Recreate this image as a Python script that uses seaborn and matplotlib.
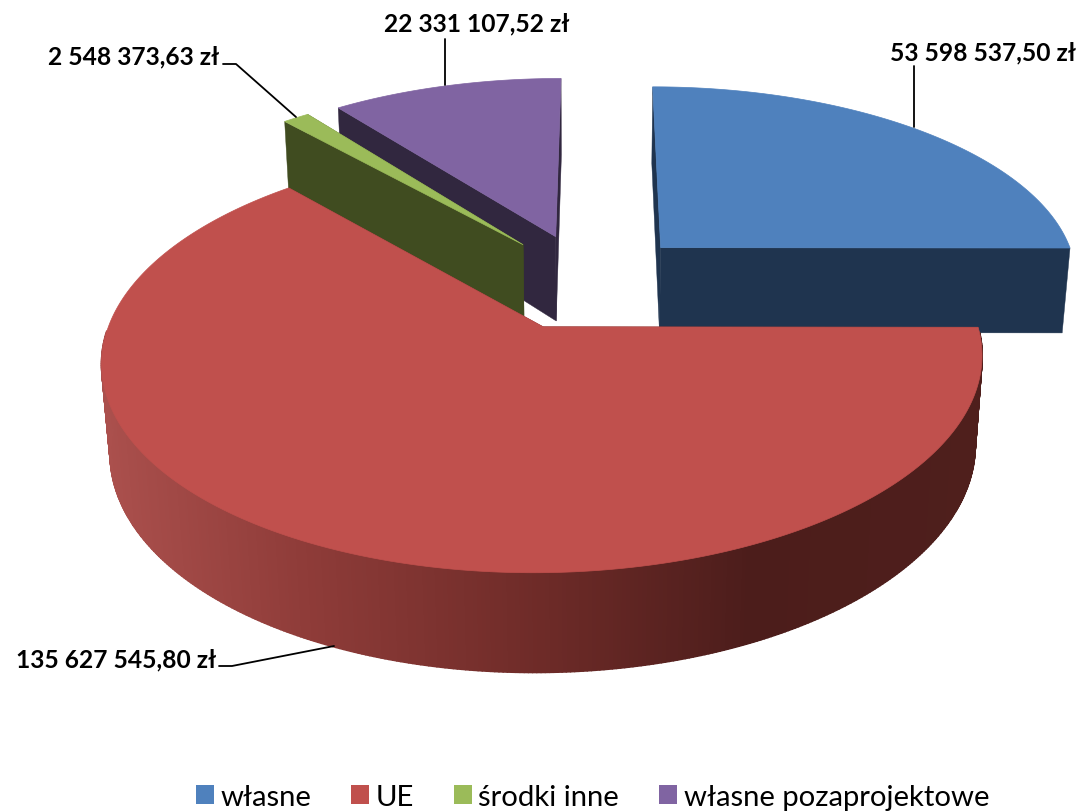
import numpy as np
import matplotlib
matplotlib.use("Agg")
import matplotlib.pyplot as plt
from matplotlib.collections import PolyCollection
from matplotlib.patches import Polygon, Patch
from matplotlib.colors import to_rgb
import seaborn as sns

# ---- data ----
categories = ["własne", "UE", "środki inne", "własne pozaprojektowe"]
values = [53598537.50, 135627545.80, 2548373.63, 22331107.52]
value_labels = ["53 598 537,50 zł", "135 627 545,80 zł", "2 548 373,63 zł", "22 331 107,52 zł"]

# ---- style ----
top_colors = ["#4f81bd", "#c0504d", "#9bbb59", "#8064a2"]
side_colors = ["#1f344f", "#4d1f1d", "#404c20", "#31273f"]
FONT = "Lato"

sns.set_theme(style="white")
plt.rcParams["font.family"] = [FONT, "DejaVu Sans"]

# ---- projection of the exploded 3-D pie ----
CX, CY, RX, RY, SKEW, DIST, H, ZK = 588, 282, 420, 194, 1.5, 6.7, 88, 0.017
EXPLODE = 0.25


def project(X, Y, Z):
    w = 1 + Y / DIST + ZK * Z
    return CX + (RX * X + SKEW * Y) / w, CY + (-RY * Y + H * Z) / w


fig = plt.figure(figsize=(10.82, 8.12), dpi=100)
ax = fig.add_axes([0, 0, 1, 1])
ax.set_xlim(0, 1082)
ax.set_ylim(812, 0)
ax.axis("off")

fractions = np.array(values) / np.sum(values)
edges = np.concatenate([[0], np.cumsum(fractions)]) * 2 * np.pi

wall_x = [100, 300, 540, 750, 990]
wall_rgb = np.array([to_rgb(c) for c in ["#ab504d", "#8f3c39", "#6e2b28", "#4c1d1b", "#4f1f1c"]])


def wall_color(i, x):
    if i != 1:
        return side_colors[i]
    return tuple(np.interp(x, wall_x, wall_rgb[:, k]) for k in range(3))


def draw_slice(i, zorder):
    a0, a1 = edges[i], edges[i + 1]
    mid = (a0 + a1) / 2
    ox, oy = EXPLODE * np.sin(mid), EXPLODE * np.cos(mid)
    th = np.linspace(a0, a1, max(int((a1 - a0) * 120), 6))
    rimX, rimY = ox + np.sin(th), oy + np.cos(th)
    tx, ty = project(rimX, rimY, 0)
    bx, by = project(rimX, rimY, 1)
    ax0, ay0 = project(ox, oy, 0)
    ax1, ay1 = project(ox, oy, 1)
    # cut faces
    for k in (0, -1):
        ax.add_patch(Polygon([(ax0, ay0), (tx[k], ty[k]), (bx[k], by[k]), (ax1, ay1)],
                             closed=True, fc=side_colors[i], ec=side_colors[i], lw=0.3, zorder=zorder))
    # outer wall: only the strips that face the viewer, overlapping so no seams appear
    front = [j for j in range(len(th) - 1) if np.cos(th[j]) < -0.02 and np.cos(th[j + 1]) < -0.02]
    quads = [[(tx[j], ty[j]), (tx[j + 1], ty[j + 1]), (bx[j + 1], by[j + 1]), (bx[j], by[j])] for j in front]
    cols = [wall_color(i, (tx[j] + tx[j + 1]) / 2) for j in front]
    if quads:
        ax.add_collection(PolyCollection(quads, facecolors=cols, edgecolors=cols, linewidths=1.4, zorder=zorder))
    # top
    ax.add_patch(Polygon(np.column_stack([np.r_[ax0, tx], np.r_[ay0, ty]]), closed=True,
                         fc=top_colors[i], ec=top_colors[i], lw=0.5, zorder=zorder + 0.5))


# painter's order: back to front
for z, i in enumerate([3, 2, 0, 1]):
    draw_slice(i, z + 2)

# ---- leader lines and value labels ----
leaders = [[(914, 67), (914, 128)], [(219, 667), (232, 667), (334, 647)],
           [(223, 65), (236, 65), (296, 118)], [(445, 40), (445, 86)]]
label_pos = [(1076, 53, "right"), (216, 660, "right"), (219, 57, "right"), (569, 24, "right")]
for pts, (x, y, ha), txt in zip(leaders, label_pos, value_labels):
    p = np.array(pts)
    ax.plot(p[:, 0], p[:, 1], color="black", lw=1.3, zorder=10)
    ax.text(x, y, txt, ha=ha, va="center", fontsize=17.7, fontweight="bold", color="black", zorder=11)

# ---- legend ----
handles = [Patch(fc=c, ec="none") for c in top_colors]
ax.legend(handles, categories, loc="lower center", bbox_to_anchor=(0.5475, -0.031), ncol=4, frameon=False,
          fontsize=21.1, handlelength=0.62, handleheight=0.62, handletextpad=0.22, columnspacing=1.36,
          labelcolor="black")

fig.savefig("out.png", dpi=100)
